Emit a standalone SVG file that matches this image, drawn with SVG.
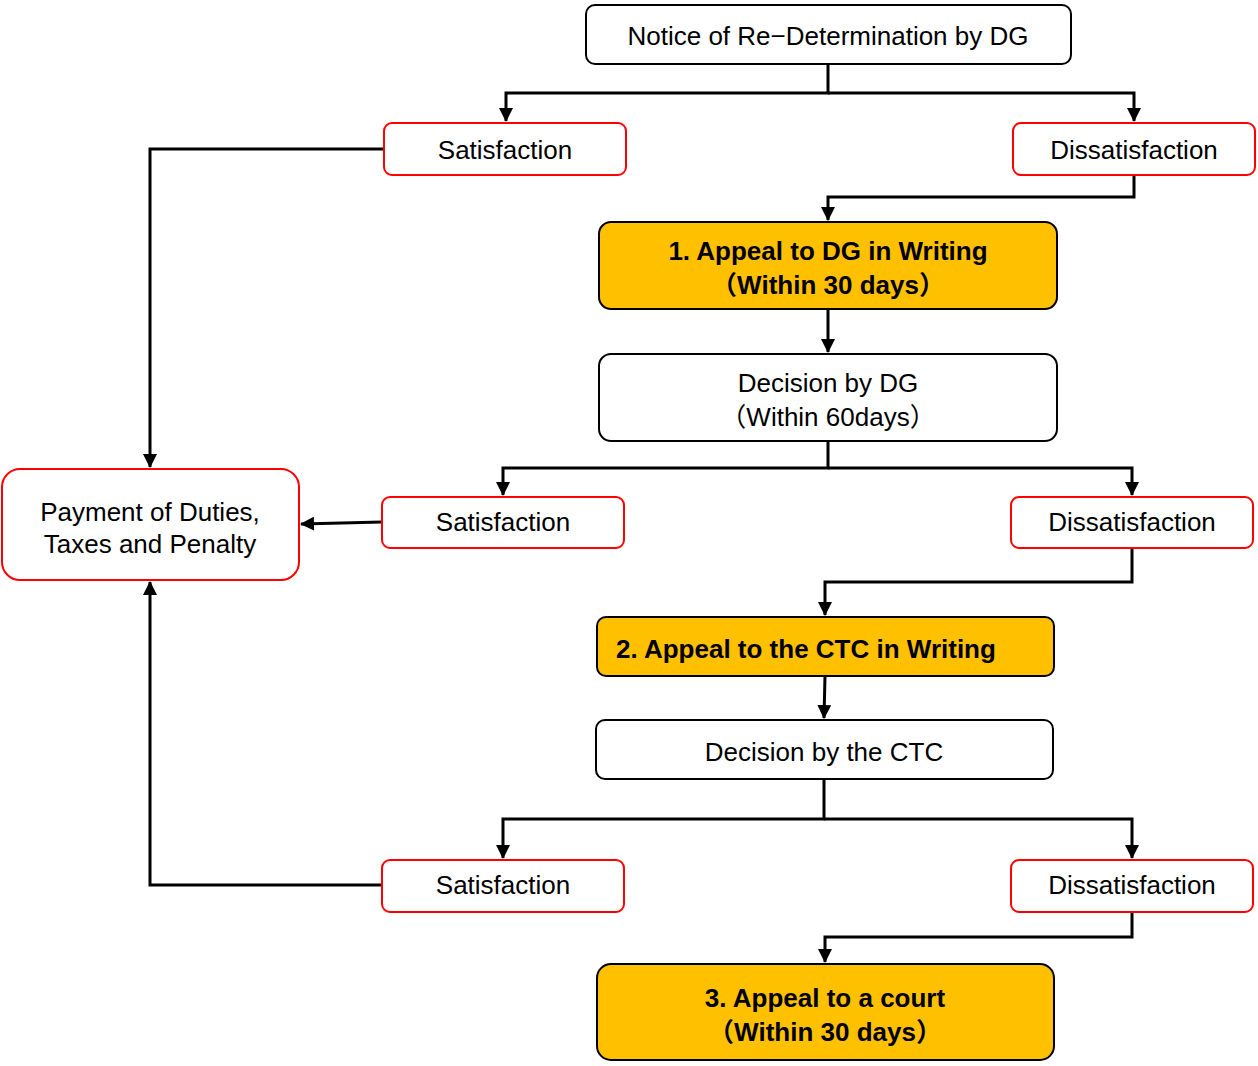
<svg xmlns="http://www.w3.org/2000/svg" width="1258" height="1066" viewBox="0 0 1258 1066">
<defs>
<marker id="ah" markerWidth="14" markerHeight="14" viewBox="0 0 14 14" refX="13" refY="7" orient="auto" markerUnits="userSpaceOnUse">
<path d="M0,0 L14,7 L0,14 Z" fill="#000"/>
</marker>
<style>
.blk{fill:#fff;stroke:#000;stroke-width:2}
.red{fill:#fff;stroke:#ff0000;stroke-width:2}
.org{fill:#ffc000;stroke:#000;stroke-width:2}
text{font-family:"Liberation Sans","Noto Sans CJK JP",sans-serif;font-size:26px;fill:#000;text-anchor:middle;dominant-baseline:central}
.b{font-weight:bold}
.c path{fill:none;stroke:#000;stroke-width:3;marker-end:url(#ah)}
</style>
</defs>
<g class="c" id="connectors">
<path d="M828,64 V93 H506 V121"/>
<path d="M828,93 H1134 V121"/>
<path d="M1134,175 V197 H828 V220"/>
<path d="M828,309 V352"/>
<path d="M828,441 V468 H503 V495"/>
<path d="M828,468 H1132 V495"/>
<path d="M382,522 L301,524"/>
<path d="M384,149 H150 V467"/>
<path d="M1132,548 V582 H825 V615"/>
<path d="M825,676 L824,718"/>
<path d="M824,779 V819 H503 V858"/>
<path d="M824,819 H1132 V858"/>
<path d="M382,885 H150 V582"/>
<path d="M1132,912 V937 H825 V962"/>
</g>
<g id="notice"><rect class="blk" x="586" y="5" width="485" height="59" rx="9"/><text x="828" y="36">Notice of Re−Determination by DG</text></g>
<g id="sat1"><rect class="red" x="384" y="123" width="242" height="52" rx="8"/><text x="505" y="150">Satisfaction</text></g>
<g id="dis1"><rect class="red" x="1013" y="123" width="242" height="52" rx="8"/><text x="1134" y="150">Dissatisfaction</text></g>
<g id="appeal1"><rect class="org" x="599" y="222" width="458" height="87" rx="12"/><text class="b" x="828" y="251">1. Appeal to DG in Writing</text><text class="b" x="828" y="285">（Within 30 days）</text></g>
<g id="decision1"><rect class="blk" x="599" y="354" width="458" height="87" rx="12"/><text x="828" y="383">Decision by DG</text><text x="828" y="417">（Within 60days）</text></g>
<g id="payment"><rect class="red" x="2" y="469" width="297" height="111" rx="18"/><text x="150" y="512">Payment of Duties,</text><text x="150" y="544">Taxes and Penalty</text></g>
<g id="sat2"><rect class="red" x="382" y="497" width="242" height="51" rx="8"/><text x="503" y="522">Satisfaction</text></g>
<g id="dis2"><rect class="red" x="1011" y="497" width="242" height="51" rx="8"/><text x="1132" y="522">Dissatisfaction</text></g>
<g id="appeal2"><rect class="org" x="597" y="617" width="457" height="59" rx="9"/><text class="b" x="616" y="649" style="text-anchor:start">2. Appeal to the CTC in Writing</text></g>
<g id="decision2"><rect class="blk" x="596" y="720" width="457" height="59" rx="9"/><text x="824" y="752">Decision by the CTC</text></g>
<g id="sat3"><rect class="red" x="382" y="860" width="242" height="52" rx="8"/><text x="503" y="885">Satisfaction</text></g>
<g id="dis3"><rect class="red" x="1011" y="860" width="242" height="52" rx="8"/><text x="1132" y="885">Dissatisfaction</text></g>
<g id="appeal3"><rect class="org" x="597" y="964" width="457" height="96" rx="14"/><text class="b" x="825" y="998">3. Appeal to a court</text><text class="b" x="825" y="1032">（Within 30 days）</text></g>
</svg>
